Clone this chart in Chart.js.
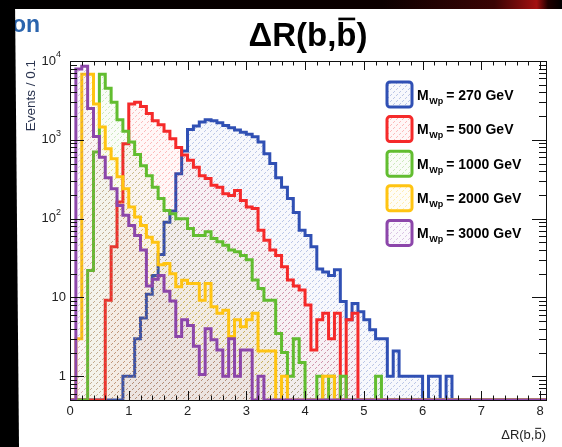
<!DOCTYPE html>
<html>
<head>
<meta charset="utf-8">
<script src="https://cdn.jsdelivr.net/npm/chart.js@4.4.1/dist/chart.umd.min.js"></script>
<style>
  html, body { margin: 0; padding: 0; background: #fff; }
  #wrap { width: 562px; height: 447px; }
</style>
</head>
<body>
<div id="wrap"><canvas id="drChart" width="562" height="447"></canvas></div>
<script>
// Delta R between the two b jets, one histogram per W' mass, 0.1 wide bins from 0 to 8.1
const binWidth = 0.1;
const xMax = 8.1;
const yMin = 0.5;
const yMax = 10000;

const massLabels = ['270', '500', '1000', '2000', '3000'];
const lineColors = ['#3050b4', '#f52a2a', '#62bd30', '#ffc412', '#8c46aa'];

const m270 = [
  0, 0, 0, 0, 0, 0, 0, 0, 0, 1,
  1, 3, 5.5, 11, 19, 35, 90, 125, 370, 720,
  1350, 1500, 1680, 1800, 1750, 1650, 1520, 1420, 1330, 1250,
  1180, 1090, 935, 665, 500, 330, 250, 180, 120, 71,
  61, 44, 23, 21, 19, 22.5, 8.9, 5.2, 8.4, 6.6,
  5.2, 3.9, 3.0, 3.0, 1, 2.1, 1, 1, 1, 1,
  0, 1, 1, 0, 1, 0, 0, 0, 0, 0,
  0, 0, 0, 0, 0, 0, 0, 0, 0, 0, 0
];
const m500 = [
  0, 0, 0, 0, 0, 0, 9.2, 44, 163, 890,
  2850, 3000, 2650, 2150, 1750, 1550, 1280, 1030, 800, 640,
  550, 450, 350, 322, 265, 250, 207, 196, 228, 170,
  140, 134, 71, 53, 40, 34, 24.5, 16.6, 14, 12.4,
  8.0, 2.15, 5.2, 6.3, 3.0, 6.3, 0, 5.2, 6.3, 0,
  0, 0, 0, 0, 0, 0, 0, 0, 0, 0,
  0, 0, 0, 0, 0, 0, 0, 0, 0, 0,
  0, 0, 0, 0, 0, 0, 0, 0, 0, 0, 0
];
const m1000 = [
  0, 0, 0, 22, 700, 6800, 4500, 3000, 1800, 1280,
  935, 650, 470, 350, 250, 180, 127, 115, 100, 100,
  75, 61, 61, 68, 56, 51, 46, 40, 38, 34,
  30, 16.6, 13, 9.2, 9.2, 3.5, 2.0, 1.0, 3.0, 1.5,
  0, 0, 1, 0, 1, 0, 1, 0, 0, 0,
  0, 0, 1, 0, 0, 0, 0, 0, 0, 0,
  0, 0, 0, 0, 0, 0, 0, 0, 0, 0,
  0, 0, 0, 0, 0, 0, 0, 0, 0, 0, 0
];
const m2000 = [
  0, 3.0, 6800, 6800, 2850, 1450, 770, 575, 340, 240,
  140, 105, 82, 58, 50, 26, 27, 20, 13.7, 16.5,
  15, 15, 9.2, 15, 7.6, 6.3, 6.9, 3.2, 5.2, 4.25,
  5.2, 6.3, 2.1, 2.1, 2.1, 0, 1, 0, 0, 0,
  0, 0, 0, 1, 1, 0, 0, 0, 0, 0,
  0, 0, 0, 0, 0, 0, 0, 0, 0, 0,
  0, 0, 0, 0, 0, 0, 0, 0, 0, 0,
  0, 0, 0, 0, 0, 0, 0, 0, 0, 0, 0
];
const m3000 = [
  0, 7900, 8600, 2500, 1100, 600, 330, 240, 147, 110,
  82, 61, 40, 14, 17, 19, 12, 9, 3.2, 5.2,
  4.4, 2.4, 1.05, 4, 2.9, 2.15, 1.0, 3.0, 1.0, 2.15,
  2.15, 0, 1.0, 0, 0, 0, 0, 0, 0, 0,
  0, 0, 0, 0, 0, 0, 0, 0, 0, 0,
  0, 0, 0, 0, 0, 0, 0, 0, 0, 0,
  0, 0, 0, 0, 0, 0, 0, 0, 0, 0,
  0, 0, 0, 0, 0, 0, 0, 0, 0, 0, 0
];
const allSeries = [m270, m500, m1000, m2000, m3000];

const xTickValues = [0, 1, 2, 3, 4, 5, 6, 7, 8];
const yDecades = [1, 10, 100, 1000, 10000];

// bin left edges with the bin content, plus the closing edge.
// empty bins sit on the frame floor, as ROOT draws them on a log axis
function toSteps(values) {
  const pts = values.map((v, i) => ({ x: +(i * binWidth).toFixed(1), y: v > 0 ? v : yMin }));
  pts.push({ x: xMax, y: pts[pts.length - 1].y });
  return pts;
}

function hexA(hex, a) {
  const n = parseInt(hex.slice(1), 16);
  return `rgba(${(n >> 16) & 255},${(n >> 8) & 255},${n & 255},${a})`;
}

// light dotted diagonal hatch like the ROOT fill style
function hatch(color) {
  const tile = document.createElement('canvas');
  tile.width = 6; tile.height = 6;
  const t = tile.getContext('2d');
  t.fillStyle = hexA(color, 0.04);
  t.fillRect(0, 0, 6, 6);
  t.fillStyle = hexA(color, 0.3);
  t.fillRect(0, 5, 1, 1);
  t.fillRect(1, 4, 1, 1);
  t.fillRect(3, 2, 1, 1);
  t.fillRect(4, 1, 1, 1);
  return t.createPattern(tile, 'repeat');
}

const FONT = '"Liberation Sans", Arial, Helvetica, sans-serif';

const backdrop = {
  id: 'backdrop',
  beforeDraw(chart) {
    const c = chart.ctx;
    c.save();
    c.fillStyle = '#fff';
    c.fillRect(0, 0, chart.width, chart.height);
    // piece of the slide heading
    c.fillStyle = '#2a64ad';
    c.font = 'bold 23px ' + FONT;
    c.textBaseline = 'alphabetic';
    c.fillText('on', 12, 32);
    // dark slide border
    c.fillStyle = '#000';
    c.beginPath();
    c.moveTo(0, 0); c.lineTo(15, 0); c.lineTo(19, chart.height); c.lineTo(0, chart.height);
    c.closePath();
    c.fill();
    const g = c.createLinearGradient(0, 0, chart.width, 0);
    g.addColorStop(0, '#000');
    g.addColorStop(0.68, '#0c0000');
    g.addColorStop(0.88, '#3a0404');
    g.addColorStop(0.955, '#a41010');
    g.addColorStop(0.975, '#200000');
    g.addColorStop(1, '#000');
    c.fillStyle = g;
    c.fillRect(0, 0, chart.width, 9);
    c.restore();
  }
};

function drawBbar(c, x, y, align, size, weight) {
  c.font = weight + ' ' + size + 'px ' + FONT;
  const head = 'ΔR(b,';
  const bb = 'b';
  const tail = ')';
  const w = c.measureText(head).width + c.measureText(bb).width + c.measureText(tail).width;
  let x0 = align === 'right' ? x - w : align === 'center' ? x - w / 2 : x;
  c.textAlign = 'left';
  c.fillText(head, x0, y);
  x0 += c.measureText(head).width;
  c.fillText(bb, x0, y);
  const bw = c.measureText(bb).width;
  c.fillRect(x0 + size * 0.06, y - size * 0.86, bw - size * 0.1, Math.max(1, size * 0.08));
  x0 += bw;
  c.fillText(tail, x0, y);
}

const frame = {
  id: 'frame',
  afterDatasetsDraw(chart) {
    const c = chart.ctx;
    const a = chart.chartArea;
    const xs = chart.scales.x, ys = chart.scales.y;
    c.save();
    c.strokeStyle = '#111';
    c.lineWidth = 1;
    c.beginPath();
    // x ticks, bottom and top
    for (let i = 0; i <= 40; i++) {
      const v = i * 0.2;
      const px = Math.round(xs.getPixelForValue(v)) + 0.5;
      const len = i % 5 === 0 ? 9 : 4.5;
      c.moveTo(px, a.bottom); c.lineTo(px, a.bottom - len);
      c.moveTo(px, a.top); c.lineTo(px, a.top + len);
    }
    // y ticks, left and right
    const minors = [0.5, 0.6, 0.7, 0.8, 0.9];
    yDecades.slice(0, -1).forEach(d => { for (let m = 2; m <= 9; m++) minors.push(m * d); });
    minors.forEach(v => {
      const py = Math.round(ys.getPixelForValue(v)) + 0.5;
      c.moveTo(a.left, py); c.lineTo(a.left + 7, py);
      c.moveTo(a.right, py); c.lineTo(a.right - 7, py);
    });
    yDecades.forEach(v => {
      const py = Math.round(ys.getPixelForValue(v)) + 0.5;
      c.moveTo(a.left, py); c.lineTo(a.left + 14, py);
      c.moveTo(a.right, py); c.lineTo(a.right - 14, py);
    });
    c.stroke();
    c.strokeRect(Math.round(a.left) + 0.5, Math.round(a.top) + 0.5,
      Math.round(a.right - a.left), Math.round(a.bottom - a.top));

    // y tick labels with exponents
    c.fillStyle = '#222';
    c.textBaseline = 'middle';
    yDecades.forEach((v, i) => {
      const py = ys.getPixelForValue(v);
      c.textAlign = 'right';
      if (i < 2) {
        c.font = '13px ' + FONT;
        c.fillText(String(v), a.left - 4, py);
      } else {
        c.font = '9px ' + FONT;
        c.fillText(String(i), a.left - 9, py - 6);
        c.font = '13px ' + FONT;
        c.fillText('10', a.left - 14, py);
      }
    });
    c.restore();
  }
};

const annotations = {
  id: 'annotations',
  afterDraw(chart) {
    const c = chart.ctx;
    const a = chart.chartArea;
    c.save();
    c.fillStyle = '#000';
    c.textBaseline = 'alphabetic';
    drawBbar(c, 308, 46, 'center', 33, 'bold');

    c.fillStyle = '#222';
    drawBbar(c, a.right, 439, 'right', 13, 'normal');

    // y axis title, top aligned
    c.save();
    c.translate(35, a.top - 1);
    c.rotate(-Math.PI / 2);
    c.fillStyle = '#2b3550';
    c.font = '13.5px ' + FONT;
    c.textAlign = 'right';
    c.fillText('Events / 0.1', 0, 0);
    c.restore();

    // legend
    const lx = 387, ly = 82, step = 34.6, box = 25;
    chart.data.datasets.forEach((ds, i) => {
      const top = ly + i * step;
      c.save();
      c.beginPath();
      c.roundRect(lx, top, box, box, 3);
      c.fillStyle = '#fff';
      c.fill();
      c.fillStyle = ds.backgroundColor;
      c.fill();
      c.lineWidth = 3;
      c.strokeStyle = ds.borderColor;
      c.stroke();
      c.restore();

      let tx = lx + box + 5;
      const base = top + box / 2 + 5;
      c.fillStyle = '#000';
      c.textAlign = 'left';
      c.font = 'bold 14px ' + FONT;
      c.fillText('M', tx, base);
      tx += c.measureText('M').width + 0.5;
      c.font = 'bold 9px ' + FONT;
      c.fillText('Wp', tx, base + 4);
      tx += c.measureText('Wp').width + 3;
      c.font = 'bold 14px ' + FONT;
      c.fillText('= ' + massLabels[i] + ' GeV', tx, base);
    });
    c.restore();
  }
};

new Chart(document.getElementById('drChart'), {
  type: 'line',
  data: {
    datasets: allSeries.map((vals, i) => ({
      label: 'M_Wp = ' + massLabels[i] + ' GeV',
      data: toSteps(vals),
      stepped: true,
      borderColor: lineColors[i],
      backgroundColor: hatch(lineColors[i]),
      borderWidth: 3,
      borderJoinStyle: 'miter',
      borderCapStyle: 'butt',
      pointRadius: 0,
      fill: 'start',
      order: 5 - i
    }))
  },
  options: {
    responsive: false,
    animation: false,
    events: [],
    layout: { padding: { left: 0, top: 61, right: 16, bottom: 0 } },
    plugins: { legend: { display: false }, tooltip: { enabled: false } },
    scales: {
      x: {
        type: 'linear',
        min: 0,
        max: xMax,
        afterBuildTicks: s => { s.ticks = xTickValues.map(v => ({ value: v })); },
        afterFit: s => { s.height = 47; },
        grid: { display: false, drawTicks: false },
        border: { display: false },
        ticks: { color: '#222', font: { family: FONT, size: 13 }, padding: 4, maxRotation: 0 }
      },
      y: {
        type: 'logarithmic',
        min: yMin,
        max: yMax,
        afterFit: s => { s.width = 70; },
        grid: { display: false, drawTicks: false },
        border: { display: false },
        ticks: { display: false }
      }
    }
  },
  plugins: [backdrop, frame, annotations]
});
</script>
</body>
</html>
